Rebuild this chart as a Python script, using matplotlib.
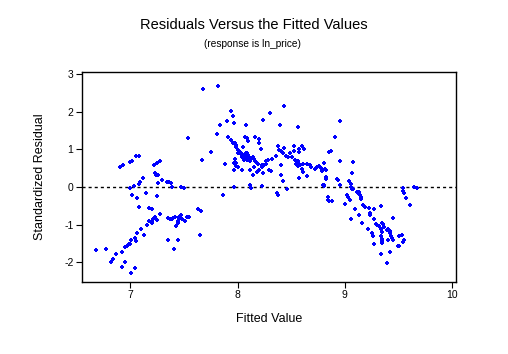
import matplotlib
matplotlib.use("Agg")
import matplotlib.pyplot as plt

plt.rcParams['font.family'] = ['Liberation Sans', 'DejaVu Sans']

title = "Residuals Versus the Fitted Values"
subtitle = "(response is ln_price)"
x_label = "Fitted Value"
y_label = "Standardized Residual"
x_ticks = [7, 8, 9, 10]
y_ticks = [-2, -1, 0, 1, 2, 3]

fitted = [
    6.68, 6.77, 6.82, 6.84, 6.87, 6.92, 6.95, 6.92, 7.04, 7.01, 6.95, 6.97, 6.99, 7.00,
    7.01, 7.04, 7.05, 7.06, 7.10, 7.13, 7.08, 7.17, 7.20, 7.06, 7.02, 7.15, 7.00, 7.03,
    7.08, 7.09, 7.12, 6.90, 6.93, 7.00, 7.02, 7.05, 7.08, 7.22, 7.25, 7.28, 7.23, 7.24,
    7.26, 7.30, 7.34, 7.36, 7.38, 7.26, 7.39, 7.47, 7.50, 7.25, 7.28, 7.23, 7.21, 7.17,
    7.20, 7.20, 7.25, 7.16,
    7.35, 7.37, 7.39, 7.40, 7.42, 7.45, 7.46, 7.45, 7.44, 7.44, 7.43, 7.48, 7.51, 7.53,
    7.55, 7.47,
    7.65, 7.35, 7.44, 7.41, 7.63, 7.66, 7.67, 7.75, 7.54, 7.68, 7.82, 7.81, 7.84, 7.90,
    7.94, 7.96, 7.97, 8.08, 8.30, 8.43, 8.24, 8.40, 8.56, 7.88, 7.86, 7.97, 8.12, 8.13,
    8.23, 8.37, 8.38, 8.46, 8.81, 7.97, 7.99, 7.97,
    7.91, 7.94, 7.96, 7.98, 7.99, 8.00, 8.00, 8.02, 8.04, 8.05, 8.07, 8.09, 8.05, 8.07,
    8.09, 8.10, 8.16, 8.20, 8.20, 8.22, 7.98, 7.99, 8.00, 8.05, 8.07, 8.09, 8.10, 8.06,
    8.12, 8.15, 8.17, 8.19, 8.23, 8.25, 8.27, 8.27, 8.29, 8.28, 8.24, 8.14, 8.12, 8.15,
    8.04, 8.20, 8.18,
    8.23, 8.32, 8.36, 8.38, 8.39, 8.41, 8.42, 8.45, 8.43, 8.47, 8.49, 8.51, 8.31, 8.41,
    8.41, 8.42, 8.53, 8.57, 8.60, 8.62, 8.57, 8.53, 8.54, 8.56, 8.57, 8.58, 8.56, 8.55,
    8.61, 8.60, 8.61, 8.57, 8.65, 8.68, 8.69, 8.72, 8.74, 8.76, 8.78, 8.79, 8.82, 8.85,
    8.65, 8.83, 8.84, 8.85,
    7.99, 8.01, 8.00, 8.03, 8.05, 8.04, 8.06, 8.07, 8.08, 8.09, 8.10, 8.11, 8.12, 8.14,
    8.15, 8.16,
    8.96, 8.91, 8.87, 8.96, 9.08, 8.81, 8.77, 8.79, 8.83, 9.07, 8.83, 8.83, 8.93, 8.94,
    9.04, 9.06, 9.06, 9.07, 9.08, 8.80, 8.81, 8.96, 9.11, 9.13, 9.14, 9.15, 9.15, 9.12,
    9.54, 9.54, 9.55, 9.65, 9.67, 9.57, 9.61, 8.84, 8.88, 9.02, 9.03, 9.05, 9.00, 9.17,
    9.19, 9.23, 9.34, 9.10, 9.27, 9.24, 9.24, 9.13, 9.27, 9.45, 9.06, 9.16,
    9.29, 9.30, 9.32, 9.35, 9.36, 9.37, 9.34, 9.35, 9.39, 9.40, 9.42, 9.42, 9.43, 9.44,
    9.45, 9.40, 9.22, 9.25, 9.26, 9.34, 9.35, 9.35, 9.35, 9.51, 9.53, 9.55, 9.54, 9.27,
    9.50, 9.51, 9.42, 9.34, 9.39,
]

residual = [
    -1.68, -1.65, -1.99, -1.91, -1.78, -1.73, -1.99, -2.14, -2.15, -2.30, -1.60, -1.57, -1.52, -1.52,
    -1.41, -1.36, -1.44, -1.23, -1.11, -1.28, -0.54, -0.56, -0.59, -0.29, -0.20, -0.15, -0.03, 0.03,
    0.08, 0.13, 0.24, 0.52, 0.58, 0.66, 0.68, 0.82, 0.82, 0.58, 0.63, 0.68, 0.38, 0.31,
    0.31, 0.19, 0.13, 0.13, 0.10, 0.10, -0.01, -0.01, -0.03, -0.24, -0.72, -0.81, -0.86, -0.91,
    -0.91, -0.97, -0.88, -1.02,
    -0.82, -0.86, -0.86, -0.82, -0.79, -0.79, -0.81, -0.86, -0.90, -0.97, -1.04, -0.86, -0.90, -0.79,
    -0.81, -0.75,
    -1.29, -1.41, -1.41, -1.66, -0.59, -0.63, 0.72, 0.93, 1.30, 2.60, 2.69, 1.41, 1.64, 1.75,
    2.03, 1.89, 1.71, 1.64, 1.96, 2.15, 1.78, 1.64, 1.59, 0.61, -0.22, -0.01, 0.05, -0.03,
    0.03, -0.17, -0.20, -0.06, 0.05, 0.63, 0.56, 0.45,
    1.32, 1.25, 1.18, 1.18, 1.07, 0.98, 0.91, 0.90, 0.82, 0.84, 0.88, 0.91, 1.06, 1.34,
    1.30, 1.22, 1.32, 1.27, 1.16, 1.02, 0.74, 0.65, 0.54, 0.77, 0.79, 0.72, 0.79, 0.72,
    0.70, 0.74, 0.66, 0.61, 0.54, 0.59, 0.61, 0.70, 0.45, 0.72, 0.38, 0.31, 0.45, 0.54,
    0.45, 0.45, 0.40,
    0.58, 0.75, 0.82, 1.09, 0.98, 0.95, 0.90, 0.82, 1.04, 0.81, 0.91, 0.79, 0.42, 0.58,
    0.33, 0.15, 1.09, 1.00, 1.09, 1.00, 0.93, 0.97, 0.72, 0.70, 0.61, 0.58, 0.56, 0.61,
    0.61, 0.47, 0.40, 0.24, 0.61, 0.59, 0.52, 0.47, 0.54, 0.56, 0.51, 0.45, 0.49, 0.93,
    0.29, 0.24, -0.27, -0.38,
    1.11, 0.97, 0.91, 0.91, 0.86, 0.81, 0.75, 0.82, 0.90, 0.91, 0.86, 0.79, 0.75, 0.81,
    0.75, 0.70,
    1.75, 1.32, 0.95, 0.68, 0.66, 0.63, 0.52, 0.42, 0.45, 0.38, 0.26, 0.22, 0.22, 0.19,
    0.15, 0.08, 0.01, -0.05, -0.06, 0.06, 0.03, 0.05, -0.13, -0.13, -0.20, -0.27, -0.31, -0.17,
    -0.03, -0.10, -0.15, -0.01, -0.03, -0.29, -0.49, -0.35, -0.38, -0.20, -0.27, -0.35, -0.45, -0.49,
    -0.54, -0.56, -0.51, -0.59, -0.59, -0.70, -0.74, -0.75, -0.84, -0.82, -0.86, -0.97,
    -0.98, -1.00, -1.04, -0.97, -0.98, -1.06, -1.12, -1.20, -1.14, -1.12, -1.18, -1.23, -1.30, -1.36,
    -1.41, -1.41, -1.11, -1.23, -1.30, -1.30, -1.38, -1.43, -1.50, -1.30, -1.28, -1.41, -1.46, -1.52,
    -1.57, -1.57, -1.73, -1.78, -2.03,
]

fig = plt.figure(figsize=(5.08, 3.54), dpi=100)
ax = fig.add_axes([0.161, 0.2042, 0.737, 0.5933])

ax.scatter(fitted, residual, marker='P', s=11, color='#0000ff', linewidths=0, zorder=3)
ax.axhline(0, color='black', linestyle=(0, (2.2, 2.2)), linewidth=1.0, zorder=2)

ax.set_xlim(6.547, 10.04)
ax.set_ylim(-2.52, 3.07)
ax.set_xticks(x_ticks)
ax.set_yticks(y_ticks)
ax.set_xticklabels([str(t) for t in x_ticks])
ax.set_yticklabels([str(t) for t in y_ticks])
ax.tick_params(direction='out', length=4, width=0.8, labelsize=7.5, pad=2,
               top=False, right=False, colors='black')
for sp in ax.spines.values():
    sp.set_linewidth(1.0)
    sp.set_color('black')

ax.set_xlabel(x_label, fontsize=9, labelpad=9)
ax.set_ylabel(y_label, fontsize=9, labelpad=13)

fig.text(0.5, 0.929, title, ha='center', va='center', fontsize=10.5)
fig.text(0.497, 0.876, subtitle, ha='center', va='center', fontsize=7.3)

fig.savefig("out.png", dpi=100, facecolor='white')
